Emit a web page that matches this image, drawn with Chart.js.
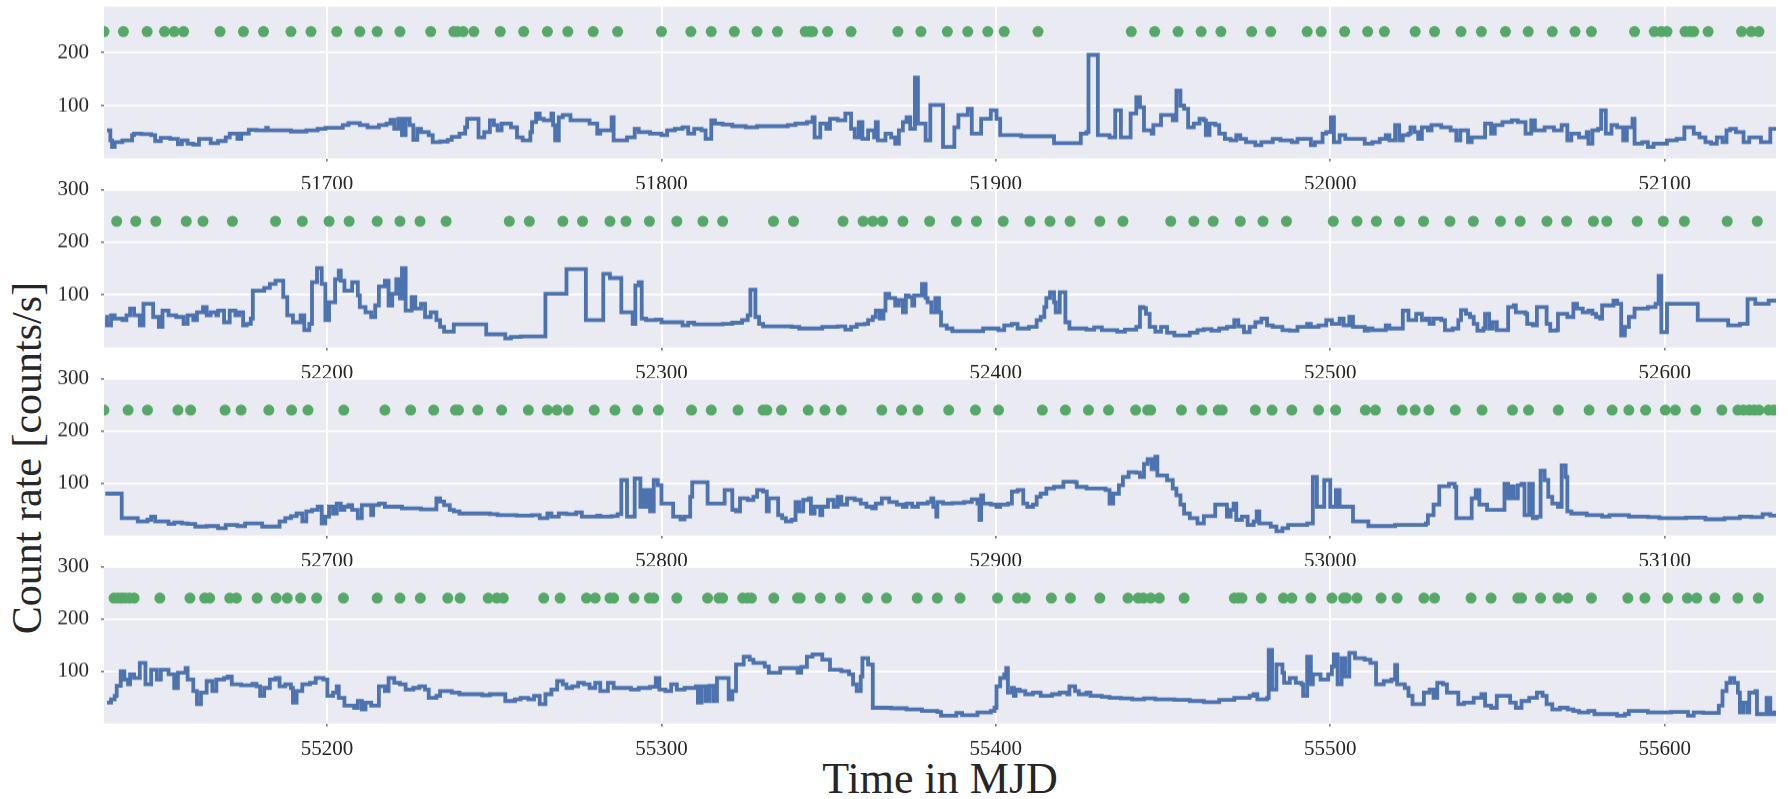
<!DOCTYPE html>
<html>
<head>
<meta charset="utf-8">
<script src="https://cdn.jsdelivr.net/npm/chart.js@4.4.0/dist/chart.umd.min.js"></script>
<style>
  html, body { margin: 0; padding: 0; background: #fff; }
  body { width: 1788px; height: 799px; position: relative; overflow: hidden;
         font-family: "Liberation Serif", serif; color: #262626; }
  canvas { position: absolute; left: 0; }
  .ytitle { position: absolute; left: -223px; top: 435px; width: 500px; height: 46px;
            line-height: 46px; text-align: center; font-size: 42px; transform: rotate(-90deg); }
  .xtitle { position: absolute; left: 540px; top: 757px; width: 800px; text-align: center;
            font-size: 44px; line-height: 44px; }
</style>
</head>
<body>
<div class="ytitle">Count rate [counts/s]</div>
<div class="xtitle">Time in MJD</div>
<script>
// each panel shows a 500 day window, starting at these MJDs
const windowStart = [51633.3, 52133.3, 52633.3, 55133.3];
const windowLength = 500;
const yMax = [287, 300, 300, 300];
const yTicks = [100, 200, 300];
const xTicks = [
    [51700, 51800, 51900, 52000, 52100],
    [52200, 52300, 52400, 52500, 52600],
    [52700, 52800, 52900, 53000, 53100],
    [55200, 55300, 55400, 55500, 55600]
];
// observation markers are drawn at a fixed count rate
const dotLevel = 240;

// [days since window start, count rate]
const p1Steps = [
    [0.9,53],[1.9,34],[2.4,22],[3.2,31],[5.5,34],[8.4,44],[9.0,47],[11.2,46],[14.1,44],[15.3,33],
    [17.0,39],[19.8,37],[22.1,27],[23.3,34],[25.0,28],[26.7,26],[28.4,37],[31.9,29],[34.1,33],[36.4,40],
    [37.6,47],[39.9,37],[41.0,47],[43.3,54],[45.6,53],[48.5,58],[49.0,53],[55.9,51],[60.5,53],[63.9,56],
    [66.2,58],[71.4,63],[73.1,67],[76.5,63],[78.8,59],[82.2,63],[84.5,66],[85.7,73],[86.8,56],[88.0,75],
    [89.1,44],[90.2,75],[91.4,63],[92.5,35],[93.7,56],[94.8,50],[97.1,44],[98.3,31],[100.5,32],[102.8,35],
    [104.0,41],[106.3,47],[108.0,59],[108.6,75],[112.0,40],[113.7,50],[115.4,72],[116.6,63],[117.7,53],[118.9,66],
    [121.7,59],[123.5,40],[125.2,34],[127.5,50],[128.0,69],[129.2,85],[130.3,75],[131.5,72],[133.8,85],[134.3,63],
    [134.9,34],[136.0,78],[137.2,82],[139.5,72],[145.2,66],[147.5,47],[148.4,53],[151.8,78],[152.4,34],[156.4,40],
    [158.7,56],[159.9,50],[163.3,47],[166.7,44],[168.4,53],[170.7,56],[173.0,59],[174.7,47],[176.5,56],[178.7,53],
    [179.9,37],[181.6,72],[182.7,66],[185.0,64],[187.9,61],[191.9,59],[195.3,61],[204.5,63],[206.8,66],[210.2,69],
    [211.9,78],[212.5,40],[214.2,66],[216.0,56],[217.1,75],[219.4,72],[221.7,85],[223.4,56],[224.5,40],[225.7,69],
    [226.8,37],[228.5,53],[230.3,40],[230.8,69],[231.4,34],[233.7,47],[235.4,40],[236.6,28],[237.7,53],[238.9,69],
    [240.0,78],[241.1,56],[242.5,153],[243.4,66],[245.7,34],[247.1,101],[250.9,22],[254.3,59],[255.5,82],[258.3,94],
    [259.5,47],[262.3,75],[265.2,91],[266.9,75],[268.0,44],[274.3,42],[284.1,29],[292.1,47],[293.8,50],[294.4,196],
    [297.2,44],[300.7,40],[302.4,91],[304.1,40],[307.0,85],[308.7,116],[309.8,97],[311.0,53],[313.3,47],[313.8,63],
    [316.1,82],[319.6,72],[320.7,128],[321.9,100],[323.0,94],[324.2,59],[325.9,66],[327.6,75],[328.9,72],[329.5,44],
    [330.6,66],[332.3,63],[333.5,47],[335.2,37],[336.9,34],[338.6,44],[339.8,37],[341.5,31],[344.3,25],[346.1,31],
    [349.5,37],[351.8,34],[355.2,31],[356.9,37],[360.9,25],[362.1,31],[364.4,47],[365.5,50],[366.9,78],[367.8,31],
    [369.5,44],[371.2,37],[377.0,28],[379.3,31],[381.5,37],[383.3,44],[384.4,34],[386.1,63],[387.3,34],[388.4,44],
    [390.1,47],[390.7,59],[391.9,50],[393.0,37],[394.1,59],[395.9,53],[397.0,63],[399.9,59],[402.7,53],[404.4,34],
    [405.6,53],[407.9,31],[409.0,40],[413.0,66],[414.8,47],[415.9,63],[418.2,69],[421.0,72],[422.8,69],[425.1,47],
    [426.8,72],[427.9,53],[430.8,59],[433.6,53],[435.9,63],[437.6,34],[438.8,47],[441.1,40],[443.4,50],[443.9,28],
    [445.1,53],[446.8,56],[447.7,91],[449.1,47],[450.8,63],[452.5,59],[454.3,34],[455.4,59],[457.1,75],[457.7,28],
    [460.0,31],[461.7,22],[463.4,28],[467.4,34],[470.3,37],[472.6,59],[475.4,47],[477.1,40],[478.9,31],[480.6,28],
    [482.3,40],[484.0,31],[485.2,53],[486.3,56],[488.0,50],[490.3,31],[492.0,40],[495.5,31],[498.3,56],[500,56]
];
const p2Steps = [
    [0.4,58],[0.9,42],[2.1,61],[3.2,55],[5.5,52],[6.7,61],[7.8,74],[9.0,61],[10.7,42],[11.8,83],
    [14.7,58],[16.4,39],[17.5,70],[19.3,61],[21.6,58],[23.8,45],[25.0,61],[26.7,52],[27.8,67],[29.6,77],
    [30.7,61],[31.9,67],[33.6,61],[34.1,70],[35.9,48],[37.6,70],[39.3,61],[40.4,67],[41.6,42],[42.7,45],
    [43.9,55],[44.5,108],[47.9,113],[49.6,121],[51.3,127],[53.6,96],[54.8,61],[56.5,48],[58.8,61],[59.9,33],
    [61.4,45],[62.2,124],[63.7,151],[65.1,121],[66.2,52],[67.3,86],[69.1,130],[70.2,146],[70.8,127],[71.9,108],
    [74.2,124],[75.9,99],[76.5,77],[78.2,67],[79.9,58],[81.1,80],[82.2,116],[84.0,127],[85.1,80],[86.2,102],
    [87.4,130],[88.5,93],[89.1,151],[90.2,70],[92.0,96],[93.1,74],[94.8,83],[96.0,58],[97.7,67],[99.4,52],
    [100.5,39],[101.7,30],[104.6,44],[114.3,25],[120.0,17],[121.7,20],[124.6,21],[132.0,102],[138.3,149],[144.1,52],
    [149.3,140],[151.3,132],[154.7,67],[158.1,45],[158.9,118],[159.9,124],[160.8,55],[162.1,52],[165.0,53],[166.7,48],
    [173.0,42],[174.7,47],[176.5,44],[185.0,45],[187.9,47],[190.8,52],[192.5,61],[193.3,110],[194.8,58],[195.9,45],
    [197.1,40],[205.6,39],[207.9,36],[214.8,39],[219.4,40],[221.7,34],[223.4,39],[225.1,44],[227.4,45],[228.5,52],
    [229.9,58],[230.8,70],[232.0,55],[233.1,70],[233.7,102],[234.8,94],[236.6,80],[237.7,90],[238.9,67],[239.8,99],
    [240.6,96],[241.7,80],[242.3,99],[244.6,121],[245.7,94],[246.3,86],[247.4,67],[248.6,94],[249.7,67],[250.3,42],
    [252.0,36],[253.7,31],[262.9,36],[267.5,33],[269.2,42],[271.5,45],[273.2,36],[276.6,39],[278.9,52],[280.1,58],
    [281.2,77],[281.8,94],[282.9,105],[284.1,86],[284.6,67],[285.8,105],[287.5,48],[288.7,36],[293.8,34],[296.1,38],
    [298.4,33],[303.0,30],[305.3,34],[308.7,39],[309.8,77],[310.8,75],[311.6,64],[312.7,39],[314.4,30],[316.1,39],
    [317.9,28],[320.1,23],[324.7,28],[327.0,33],[328.9,35],[331.2,32],[333.5,36],[335.8,39],[338.0,52],[339.2,40],
    [340.9,29],[342.6,39],[344.3,48],[346.1,55],[347.8,42],[349.5,39],[352.4,33],[354.6,32],[356.9,39],[359.8,45],
    [360.9,39],[363.2,42],[365.5,52],[367.2,45],[369.5,55],[370.7,42],[372.4,58],[373.5,39],[377.0,32],[378.1,36],
    [379.3,33],[383.3,42],[384.4,36],[388.4,70],[390.1,52],[392.4,64],[394.1,52],[395.3,55],[396.4,45],[397.6,55],
    [399.9,52],[401.0,33],[403.3,36],[405.0,52],[405.8,71],[407.3,64],[408.5,58],[409.6,45],[410.7,32],[412.5,36],
    [413.0,64],[414.2,36],[415.3,48],[416.5,33],[419.9,77],[421.6,80],[422.2,67],[425.1,64],[425.6,45],[427.3,42],
    [428.5,77],[431.4,45],[432.5,32],[434.2,33],[434.8,64],[437.6,58],[439.4,83],[440.5,74],[442.2,67],[443.9,70],
    [445.1,64],[446.2,58],[447.4,55],[448.0,80],[451.4,89],[452.5,83],[453.7,23],[454.8,39],[456.0,58],[457.7,74],
    [461.7,77],[464.0,83],[464.9,136],[465.7,29],[467.4,83],[476.6,52],[485.7,42],[489.2,45],[491.5,92],[493.8,83],
    [497.8,89],[500,89]
];
const p3Steps = [
    [0.4,80],[5.3,33],[10.1,27],[13.0,30],[14.1,36],[15.3,27],[19.3,22],[21.0,25],[23.3,23],[25.0,22],
    [27.3,17],[30.7,18],[34.1,14],[36.4,20],[39.9,18],[42.2,23],[47.3,17],[52.5,27],[54.2,33],[55.9,37],
    [57.6,42],[59.3,27],[60.5,46],[62.2,49],[63.9,55],[65.1,23],[66.2,36],[67.3,55],[68.5,42],[69.6,61],
    [70.8,49],[71.9,55],[73.1,58],[74.2,49],[75.9,33],[77.1,58],[79.9,39],[80.5,58],[82.2,61],[84.0,55],
    [89.1,52],[94.8,50],[99.4,71],[100.5,65],[101.7,58],[103.4,49],[104.6,46],[106.3,42],[115.4,41],[117.7,39],
    [123.4,38],[128.0,39],[130.3,33],[132.6,42],[133.8,36],[136.0,42],[138.3,41],[141.2,44],[142.9,36],[147.5,38],
    [148.4,36],[151.8,37],[153.6,41],[154.7,106],[156.4,36],[158.7,109],[160.4,55],[161.0,87],[162.1,55],[162.7,87],
    [163.3,46],[164.4,106],[165.6,96],[166.7,61],[170.2,36],[172.4,31],[173.6,36],[175.3,74],[175.9,102],[180.5,61],
    [185.6,87],[187.9,49],[189.0,46],[190.2,71],[192.5,68],[194.2,74],[195.3,87],[197.1,84],[198.2,46],[198.8,71],
    [201.6,39],[202.8,33],[203.9,27],[205.6,30],[206.8,64],[207.9,46],[209.1,68],[210.8,71],[211.4,42],[212.5,55],
    [214.2,39],[214.8,55],[216.5,68],[218.2,55],[219.4,74],[220.5,59],[222.2,71],[224.5,68],[226.3,61],[228.0,55],
    [229.7,52],[230.8,61],[232.6,71],[234.8,64],[237.1,59],[238.9,55],[240.0,61],[241.7,55],[243.4,61],[246.3,64],
    [247.4,71],[248.0,55],[248.9,36],[249.2,64],[250.9,61],[253.7,62],[257.2,64],[259.5,69],[261.2,61],[261.8,30],
    [262.3,77],[262.9,61],[265.2,59],[266.9,55],[268.0,59],[270.3,61],[271.5,84],[273.2,87],[274.9,61],[276.1,55],
    [277.8,59],[278.9,74],[280.1,80],[281.8,90],[284.1,93],[286.9,103],[290.4,102],[290.9,93],[293.8,90],[299.5,87],
    [300.7,61],[301.8,80],[303.5,96],[304.7,112],[306.4,121],[308.7,120],[309.8,112],[311.0,137],[312.1,146],[313.3,127],
    [314.4,151],[315.0,115],[317.9,106],[319.6,90],[320.7,77],[321.9,59],[323.0,42],[324.7,33],[327.0,23],[328.9,37],
    [332.3,59],[335.8,36],[336.9,49],[337.8,61],[338.6,30],[340.3,36],[342.0,20],[343.8,27],[344.7,46],[345.5,23],
    [348.9,17],[350.6,8],[352.4,14],[354.1,20],[359.8,23],[361.5,112],[362.7,55],[364.9,106],[366.7,55],[368.4,87],
    [369.5,55],[373.5,27],[378.1,18],[386.1,20],[395.3,23],[395.9,39],[397.6,59],[399.3,94],[402.2,99],[403.9,93],
    [404.4,33],[409.0,71],[410.2,87],[411.3,59],[413.6,49],[418.8,99],[419.9,71],[420.5,94],[421.6,71],[422.8,96],
    [423.9,99],[424.8,39],[426.2,99],[427.3,33],[428.5,36],[429.6,124],[430.8,106],[431.9,74],[433.1,61],[434.8,55],
    [435.9,134],[437.1,112],[437.6,46],[438.8,42],[443.4,39],[448.0,36],[450.2,39],[456.0,36],[461.7,35],[465.1,33],
    [473.1,34],[478.9,31],[484.6,33],[489.2,36],[492.6,35],[496.0,41],[498.3,38],[500,38]
];
const p4Steps = [
    [0.9,40],[2.1,46],[3.2,53],[3.8,72],[5.0,100],[6.1,84],[7.2,75],[7.8,94],[9.0,87],[10.7,116],
    [12.4,75],[14.1,103],[15.8,84],[17.0,103],[19.3,94],[21.0,68],[22.1,97],[24.4,106],[25.0,84],[26.7,62],
    [27.8,37],[29.0,59],[30.7,81],[32.4,62],[33.6,84],[35.9,87],[37.0,90],[38.2,75],[41.0,73],[44.4,76],
    [45.6,71],[46.7,53],[47.9,68],[49.6,84],[51.3,87],[52.5,71],[54.2,75],[55.9,68],[56.5,40],[57.6,62],
    [59.3,75],[61.6,78],[63.3,87],[65.6,84],[66.8,53],[68.5,59],[69.6,71],[70.2,49],[71.9,34],[74.8,30],
    [75.9,43],[77.1,27],[78.2,40],[79.9,34],[82.2,71],[84.0,62],[85.1,87],[86.8,78],[88.5,75],[90.2,65],
    [92.5,68],[94.3,71],[96.0,65],[97.1,49],[99.4,53],[100.5,62],[104.0,59],[106.3,56],[113.1,54],[115.4,56],
    [120.0,43],[122.9,46],[124.6,49],[126.9,46],[128.6,53],[130.3,37],[132.0,56],[133.8,65],[135.5,81],[137.2,75],
    [138.3,68],[140.0,71],[141.8,78],[143.5,75],[145.2,68],[146.9,78],[148.4,62],[150.7,78],[152.4,68],[157.6,65],
    [159.9,68],[163.3,70],[165.0,87],[166.1,65],[167.9,62],[169.6,75],[171.3,65],[173.6,68],[177.0,71],[177.6,40],
    [178.7,71],[179.9,43],[181.0,72],[182.2,43],[183.3,87],[186.8,46],[187.9,62],[189.0,113],[191.3,128],[193.1,122],
    [194.2,116],[197.6,109],[198.8,97],[202.2,106],[207.4,97],[208.5,108],[210.2,128],[211.9,132],[214.8,122],[217.1,103],
    [220.5,100],[222.8,94],[224.0,75],[225.1,62],[226.3,90],[226.8,125],[228.5,113],[229.9,30],[235.4,29],[240.0,27],
    [244.6,24],[249.2,22],[250.3,15],[254.9,20],[256.6,16],[261.2,21],[265.2,24],[266.3,30],[266.9,71],[268.0,87],
    [269.2,94],[269.8,106],[270.3,59],[271.5,68],[272.1,53],[272.6,65],[273.8,62],[275.5,56],[277.8,59],[280.1,53],
    [283.5,56],[285.8,59],[288.1,56],[288.7,71],[290.4,62],[291.5,56],[293.8,59],[295.0,53],[298.4,51],[300.7,49],
    [304.1,48],[307.5,46],[311.0,48],[314.4,46],[320.1,45],[324.7,43],[328.9,41],[333.5,45],[338.0,49],[342.6,53],
    [343.8,56],[344.9,46],[347.8,49],[348.3,141],[349.3,65],[350.6,113],[352.4,97],[352.9,78],[354.6,87],[356.4,78],
    [358.1,75],[358.6,53],[359.8,128],[360.9,75],[361.5,94],[363.8,84],[366.1,94],[367.2,109],[367.8,132],[368.9,75],
    [370.1,125],[371.2,90],[372.4,135],[374.1,125],[377.0,122],[378.7,116],[380.4,75],[382.7,81],[385.0,84],[386.1,112],
    [386.7,75],[389.0,68],[390.1,53],[391.3,37],[394.7,59],[396.4,65],[397.6,49],[398.7,78],[400.4,75],[401.6,59],
    [405.0,37],[406.7,40],[409.6,49],[411.9,56],[413.0,34],[414.8,30],[416.5,53],[420.5,40],[422.2,30],[423.9,43],
    [426.2,49],[428.5,59],[430.2,53],[431.4,37],[433.1,27],[435.4,30],[437.7,27],[439.4,24],[441.1,21],[443.9,24],
    [445.7,18],[452.5,15],[454.8,18],[456.0,24],[461.7,21],[468.6,22],[473.7,15],[475.4,21],[478.3,20],[482.9,34],
    [484.0,62],[485.2,78],[486.3,87],[487.5,78],[488.6,59],[489.2,21],[490.3,40],[491.5,21],[492.0,59],[493.8,62],
    [494.3,18],[497.2,49],[498.3,18],[499.5,21],[500,21]
];

// observation times (days since window start)
const p1Dots = [0.0, 5.8, 12.9, 18.1, 21.0, 23.8, 34.7, 41.7, 47.7, 55.9, 61.9, 69.6, 76.5, 81.7, 88.5, 97.7,
    104.6, 105.7, 107.4, 110.6, 118.5, 125.5, 132.6, 138.7, 146.3, 153.6, 166.7, 175.5, 181.6, 188.5, 195.3,
    201.4, 209.7, 211.1, 211.9, 216.4, 223.4, 237.4, 244.3, 252.2, 258.3, 264.3, 269.2, 279.3, 307.2, 314.2,
    321.2, 328.1, 334.0, 343.2, 348.9, 359.8, 364.0, 371.0, 377.9, 382.9, 392.1, 397.9, 405.8, 411.9, 419.1,
    425.9, 433.1, 439.9, 444.8, 457.7, 463.6, 465.7, 467.4, 472.8, 474.3, 475.4, 479.7, 489.7, 492.6, 494.9];
const p2Dots = [3.8, 9.5, 15.5, 24.6, 29.6, 38.4, 51.3, 59.3, 67.3, 73.3, 81.7, 88.5, 94.5, 102.3, 121.2, 127.2,
    137.2, 143.1, 151.3, 156.1, 163.1, 171.3, 179.1, 185.0, 200.2, 206.2, 221.0, 227.0, 229.9, 232.8, 238.9,
    246.9, 254.9, 260.9, 268.9, 276.9, 282.9, 288.9, 297.8, 304.7, 319.0, 325.9, 331.7, 339.8, 346.6, 353.6,
    367.6, 374.7, 380.5, 387.4, 394.6, 402.5, 409.5, 417.6, 423.5, 431.5, 437.4, 445.4, 449.4, 458.5, 466.3,
    472.6, 485.4, 494.4];
const p3Dots = [0.0, 7.2, 13.0, 22.1, 25.9, 36.2, 41.0, 49.3, 56.1, 61.0, 71.7, 84.0, 91.7, 98.6, 105.1, 106.0,
    111.8, 118.9, 126.9, 132.6, 135.5, 138.8, 146.6, 152.8, 159.6, 165.8, 175.7, 181.6, 189.6, 197.1, 198.2,
    202.6, 210.6, 215.6, 220.5, 232.6, 238.5, 243.4, 252.6, 260.6, 267.5, 280.6, 287.5, 294.4, 300.4, 308.5,
    312.1, 313.0, 322.2, 328.3, 333.2, 334.4, 344.3, 349.3, 355.2, 363.2, 368.3, 377.2, 380.2, 388.2, 392.1,
    396.2, 404.1, 412.1, 421.2, 426.0, 434.9, 444.1, 451.0, 456.0, 461.0, 466.9, 469.9, 476.0, 483.8, 488.6,
    490.3, 492.0, 493.5, 494.9, 497.8, 499.3];
const p4Dots = [3.0, 4.2, 5.3, 6.4, 7.6, 9.0, 16.7, 25.7, 30.1, 31.6, 37.6, 39.6, 45.8, 51.5, 54.8, 58.8, 63.6,
    71.6, 81.7, 88.5, 94.6, 102.8, 106.5, 114.9, 117.5, 119.4, 131.5, 136.4, 144.3, 146.9, 151.3, 152.4, 158.5,
    163.1, 164.4, 171.3, 180.5, 183.9, 185.0, 191.0, 192.5, 193.6, 200.3, 207.4, 208.2, 214.2, 220.2, 228.3,
    234.0, 243.2, 249.2, 256.0, 267.2, 273.2, 275.5, 283.3, 289.0, 297.8, 306.2, 309.3, 310.8, 313.0, 315.6,
    323.0, 338.0, 339.2, 340.3, 346.1, 352.7, 355.2, 360.9, 367.2, 370.7, 371.5, 374.7, 381.9, 386.7, 394.7,
    397.9, 408.8, 414.8, 422.8, 423.9, 429.6, 434.8, 437.7, 444.8, 455.7, 460.8, 467.6, 473.5, 476.3, 481.7,
    488.6, 494.7];

const allSteps = [p1Steps, p2Steps, p3Steps, p4Steps];
const allDots = [p1Dots, p2Dots, p3Dots, p4Dots];

// page layout of the four plot areas (pixels)
const panelBox = [
    { top: 7, bottom: 158 },
    { top: 190, bottom: 347 },
    { top: 379, bottom: 535 },
    { top: 567, bottom: 723 }
];
const padTop = 16, axisHeight = 40, axisWidth = 104, padRight = 12;
const textColor = '#262626';
const tickFont = { family: 'Liberation Serif', size: 21 };

const panelBackground = {
    id: 'panelBackground',
    beforeDraw(chart) {
        const { ctx, chartArea: a } = chart;
        ctx.save();
        ctx.fillStyle = '#EAEAF2';
        ctx.fillRect(a.left, a.top, a.right - a.left, a.bottom - a.top);
        ctx.restore();
    }
};

function makePanel(i) {
    const box = panelBox[i];
    const start = windowStart[i];
    const wantHeight = box.bottom - box.top;
    const canvas = document.createElement('canvas');
    canvas.width = 1788;
    canvas.height = padTop + wantHeight + axisHeight;
    canvas.style.width = '1788px';
    canvas.style.height = canvas.height + 'px';
    document.body.appendChild(canvas);

    const gridStyle = { color: '#ffffff', lineWidth: 1.8, tickColor: textColor, tickLength: 3, tickWidth: 1 };

    const chart = new Chart(canvas, {
        type: 'line',
        data: {
            datasets: [{
                label: 'rate',
                data: allSteps[i].map(s => ({ x: start + s[0], y: s[1] })),
                stepped: 'before',
                borderColor: '#4C72B0',
                borderWidth: 3.8,
                pointRadius: 0,
                fill: false,
                clip: 0,
                order: 1
            }, {
                label: 'observations',
                data: allDots[i].map(d => ({ x: start + d, y: dotLevel })),
                showLine: false,
                pointRadius: 5.5,
                pointBackgroundColor: '#55A868',
                pointBorderWidth: 0,
                borderColor: '#55A868',
                clip: 0,
                order: 2
            }]
        },
        options: {
            responsive: false,
            maintainAspectRatio: false,
            animation: false,
            devicePixelRatio: 1,
            layout: { padding: { top: padTop, right: padRight, left: 0, bottom: 0 } },
            plugins: { legend: { display: false }, tooltip: { enabled: false } },
            scales: {
                x: {
                    type: 'linear',
                    min: start,
                    max: start + windowLength,
                    afterBuildTicks: s => { s.ticks = xTicks[i].map(v => ({ value: v })); },
                    afterFit: s => { s.height = axisHeight; },
                    grid: gridStyle,
                    border: { display: false },
                    ticks: {
                        font: tickFont, color: textColor, padding: 10,
                        maxRotation: 0, autoSkip: false,
                        callback: v => String(v)
                    }
                },
                y: {
                    min: 0,
                    max: yMax[i],
                    afterBuildTicks: s => {
                        s.ticks = yTicks.filter(v => v <= yMax[i]).map(v => ({ value: v }));
                    },
                    afterFit: s => { s.width = axisWidth; },
                    grid: gridStyle,
                    border: { display: false },
                    ticks: { font: tickFont, color: textColor, padding: 12, callback: v => String(v) }
                }
            }
        },
        plugins: [panelBackground]
    });

    // line the plot area up with the reference box
    const a = chart.chartArea;
    const extra = wantHeight - (a.bottom - a.top);
    if (extra !== 0) {
        chart.resize(1788, canvas.height + extra);
    }
    canvas.style.top = (box.top - chart.chartArea.top) + 'px';
    console.log('panel', i, chart.chartArea);
    return chart;
}

for (let i = 0; i < 4; i++) makePanel(i);
</script>
</body>
</html>
